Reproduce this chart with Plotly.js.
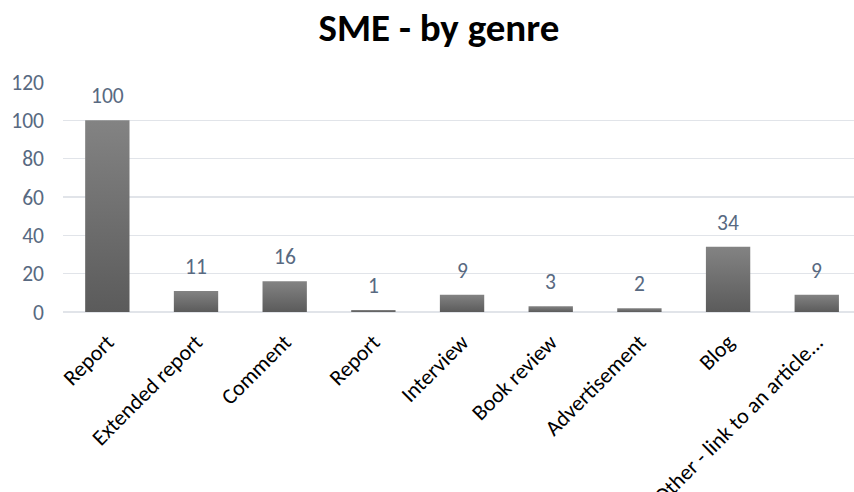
<!DOCTYPE html>
<html>
<head>
<meta charset="utf-8">
<script src="https://cdn.plot.ly/plotly-3.0.1.min.js"></script>
<style>html,body{margin:0;padding:0;background:#fff;}#chart{width:854px;height:492px;}</style>
</head>
<body>
<div id="chart"></div>
<script>
const categories = ["Report", "Extended report", "Comment", "Report", "Interview", "Book review", "Advertisement", "Blog", "Other - link to an article..."];
const values = [100, 11, 16, 1, 9, 3, 2, 34, 9];
const positions = categories.map((_, i) => i);
const yTicks = [0, 20, 40, 60, 80, 100, 120];

const FONT = "Carlito, Lato, 'Liberation Sans', sans-serif";
const NUM_COLOR = "#586981";

const trace = {
  type: "bar",
  x: positions,
  y: values,
  width: 0.5,
  marker: {color: "#6e6e6e", line: {width: 0}},
  hoverinfo: "none"
};

const labels = positions.map((p, i) => ({
  x: p, y: values[i], xref: "x", yref: "y",
  text: String(values[i]), showarrow: false,
  yanchor: "bottom", yshift: 9,
  font: {family: FONT, size: 21.5, color: NUM_COLOR}
}));

const layout = {
  width: 854, height: 492,
  margin: {l: 63, r: 0, t: 82, b: 180, autoexpand: false},
  paper_bgcolor: "#fff", plot_bgcolor: "#fff",
  showlegend: false,
  title: {
    text: "<b>SME - by genre</b>",
    font: {family: FONT, size: 39, color: "#000"},
    x: 0.514, xref: "container", xanchor: "center",
    y: 1 - 27/492, yref: "container", yanchor: "middle"
  },
  annotations: labels,
  xaxis: {
    range: [-0.5, 8.42],
    tickvals: positions,
    ticktext: categories,
    tickangle: -45,
    tickfont: {family: FONT, size: 22, color: "#000"},
    ticklabelstandoff: 12,
    showgrid: false, zeroline: false, showline: false, ticks: "",
    automargin: false, fixedrange: true
  },
  yaxis: {
    range: [0, 120],
    tickvals: yTicks,
    ticktext: yTicks.map(String),
    tickfont: {family: FONT, size: 21.5, color: NUM_COLOR},
    showgrid: true, gridcolor: "#e1e4e9", gridwidth: 1.5,
    zeroline: true, zerolinecolor: "#e1e4e9", zerolinewidth: 1.5,
    showline: false, ticks: "", ticklabelstandoff: 18,
    automargin: false, fixedrange: true
  }
};

Plotly.newPlot("chart", [trace], layout, {displayModeBar: false, staticPlot: true}).then(gd => {
  const svg = gd.querySelector("svg.main-svg");
  const ns = "http://www.w3.org/2000/svg";
  let defs = svg.querySelector("defs");
  if (!defs) { defs = document.createElementNS(ns, "defs"); svg.insertBefore(defs, svg.firstChild); }
  const lg = document.createElementNS(ns, "linearGradient");
  lg.setAttribute("id", "barGrad");
  lg.setAttribute("x1", "0"); lg.setAttribute("y1", "0");
  lg.setAttribute("x2", "0"); lg.setAttribute("y2", "1");
  [["0%", "#838383"], ["100%", "#5b5b5b"]].forEach(([o, c]) => {
    const s = document.createElementNS(ns, "stop");
    s.setAttribute("offset", o); s.setAttribute("stop-color", c);
    lg.appendChild(s);
  });
  defs.appendChild(lg);
  gd.querySelectorAll(".bars .point path").forEach(p => {
    p.style.fill = "url(#barGrad)";
  });
});
</script>
</body>
</html>
